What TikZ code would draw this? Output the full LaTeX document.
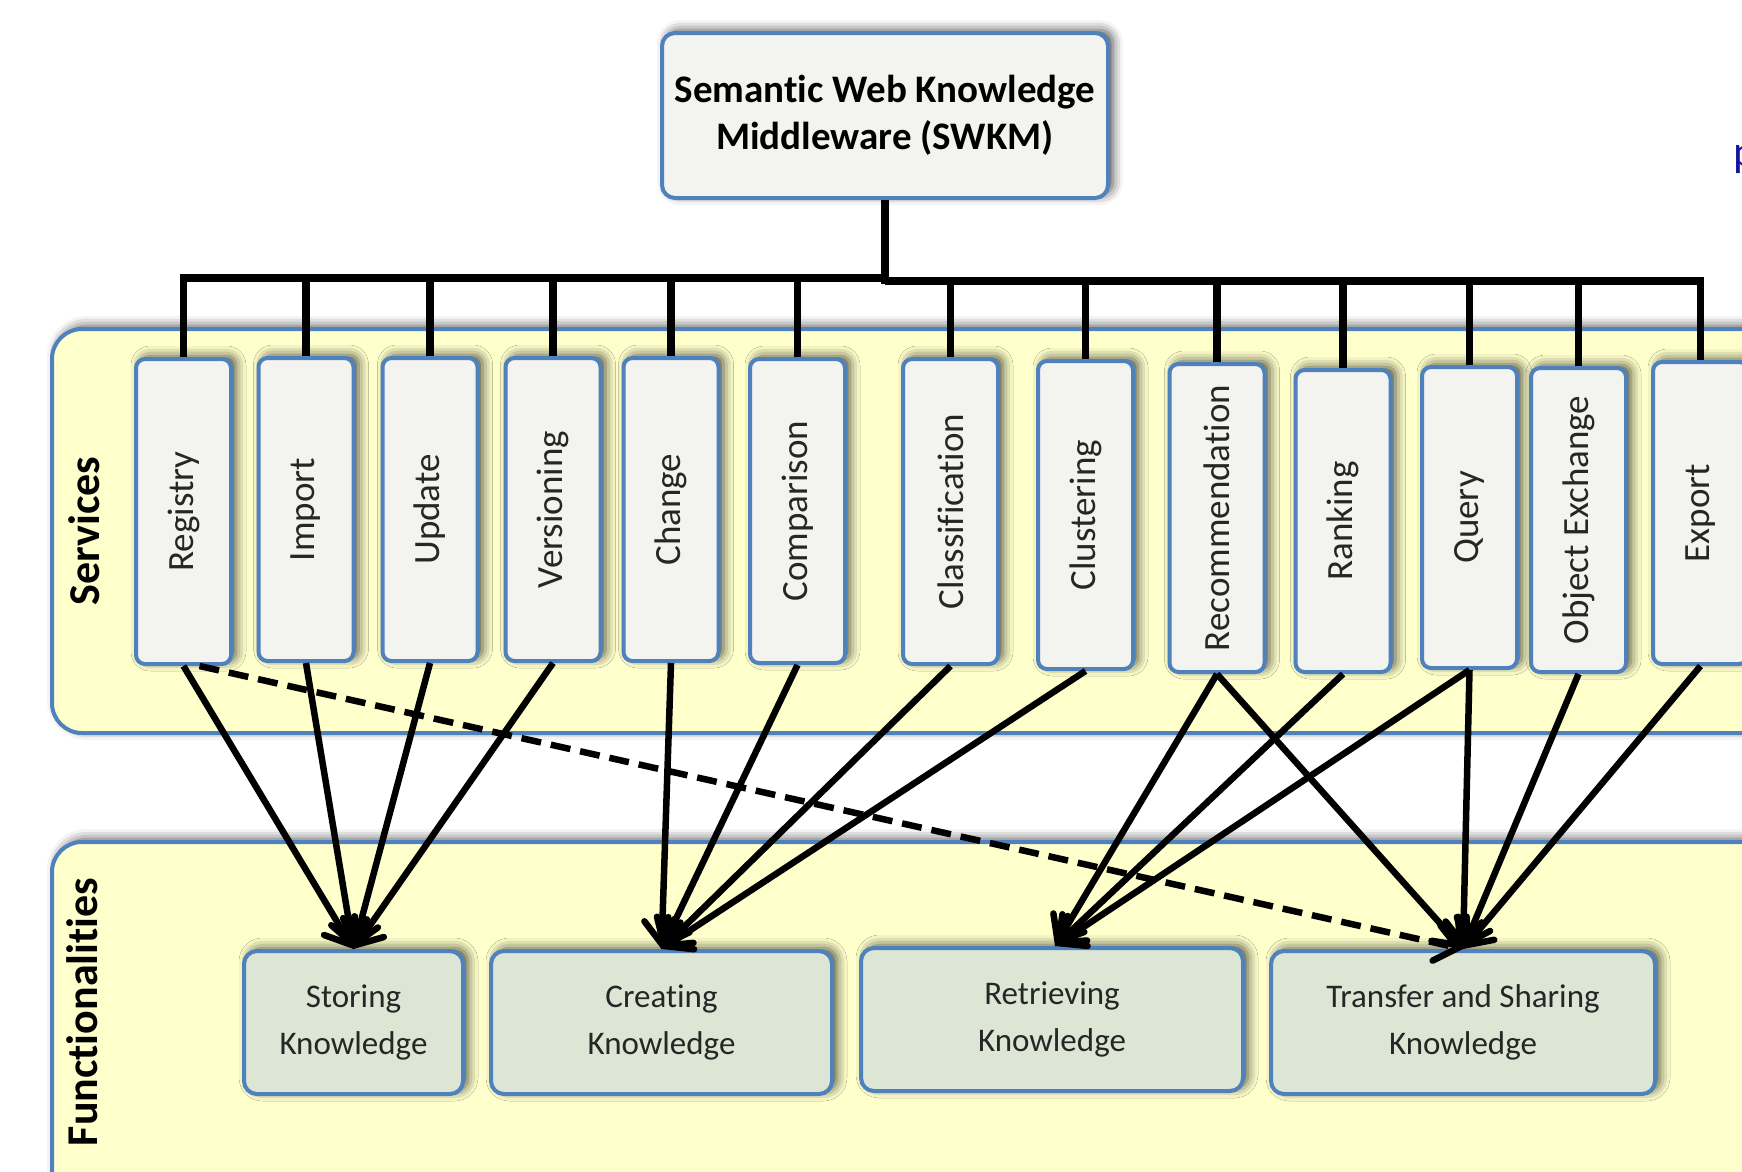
\documentclass[tikz,border=0pt]{standalone}
\usepackage{fontspec}
\setmainfont{Carlito}[RawFeature={-liga;-clig;-calt;-dlig}]
\usetikzlibrary{arrows.meta,shadows.blur}
\definecolor{edgeblue}{HTML}{4F81BD}
\definecolor{panelfill}{HTML}{FFFFCC}
\definecolor{boxfill}{HTML}{F3F3F0}
\definecolor{funcfill}{HTML}{DDE5D4}
\definecolor{inkgray}{HTML}{262626}
\definecolor{linkblue}{HTML}{1414A0}
\tikzset{
  softshadow/.style={blur shadow={shadow xshift=5pt, shadow yshift=3pt,
      shadow blur radius=10pt, shadow opacity=70}},
  panel/.style={draw=edgeblue, line width=4pt, fill=panelfill,
      rounded corners=30pt, inner sep=0pt, softshadow},
  svc/.style={draw=edgeblue, line width=4pt, fill=boxfill,
      rounded corners=9pt, inner sep=0pt, minimum width=95pt, softshadow},
  svctext/.style={rotate=90, text=inkgray, font=\fontsize{37}{44}\selectfont},
  func/.style={draw=edgeblue, line width=4pt, fill=funcfill,
      rounded corners=13pt, inner sep=0pt, align=center, text=inkgray,
      font=\fontsize{33}{47}\selectfont, softshadow},
  rootbox/.style={draw=edgeblue, line width=4pt, fill=boxfill,
      rounded corners=13pt, inner sep=0pt, align=center,
      font=\bfseries\fontsize{39}{47}\selectfont, softshadow},
  sidelabel/.style={rotate=90, font=\bfseries\fontsize{44}{50}\selectfont},
  tree/.style={line width=7.5pt, line join=miter},
  arr/.style={line width=6.5pt, line join=round,
      -{Straight Barb[length=22pt,width=36pt,line cap=round]}},
  dasharr/.style={arr, dash pattern=on 20pt off 10pt}
}
\begin{document}
\begin{tikzpicture}[x=1pt,y=-1pt]
\useasboundingbox (0,0) rectangle (1742,1171);

% the two layer panels
\node[panel, minimum width=1748pt, minimum height=404pt] (svcpanel) at (926,531) {};
\node[panel, minimum width=1748pt, minimum height=408pt] (funcpanel) at (926,1046) {};
\node[sidelabel] (svcname) at (84,531) {Services};
\node[sidelabel] (funcname) at (82,1012) {Functionalities};

% middleware root
\node[rootbox, minimum width=446pt, minimum height=165pt] (root) at (885,115.5)
  {Semantic Web Knowledge\\Middleware (SWKM)};

% service boxes: name / centre x / top / bottom / label
\foreach \n/\x/\t/\b/\lab in {
  reg/183.5/359/664/Registry,
  imp/306/358/661/Import,
  upd/430/358/661/Update,
  ver/553/358/661/Versioning,
  chg/671/358/661/Change,
  cmp/797.5/359/663/Comparison,
  cls/950.5/359/664/Classification,
  clu/1085.5/361/669/Clustering,
  rec/1217/364/672/Recommendation,
  rnk/1343/370/672/Ranking,
  qry/1469.5/367/668/Query,
  obj/1578.5/368/672/Object Exchange,
  exp/1700.5/362/664/Export}
{
  \node[svc, minimum height={\b-\t}] (\n) at (\x,{(\t+\b)/2}) {};
  \node[svctext] (\n-label) at (\n.center) {\lab};
}

% functionality boxes
\node[func, minimum width=219pt, minimum height=143pt] (sto) at (353.5,1022.5) {Storing\\Knowledge};
\node[func, minimum width=341pt, minimum height=143pt] (cre) at (661.5,1022.5) {Creating\\Knowledge};
\node[func, minimum width=382pt, minimum height=143pt] (ret) at (1052,1019.5) {Retrieving\\Knowledge};
\node[func, minimum width=384pt, minimum height=143pt] (tra) at (1463,1022.5) {Transfer and Sharing\\Knowledge};

% tree from the root to every service
\coordinate (jl) at (885,278);
\coordinate (jr) at (885,281);
\draw[tree] (root.south) -- (885,284);
\foreach \n in {reg,imp,upd,ver,chg,cmp}
  \draw[tree] (\n.north) |- (jl);
\foreach \n in {cls,clu,rec,rnk,qry,obj,exp}
  \draw[tree] (\n.north) |- (jr);

% services feeding functionalities
\foreach \n in {reg,imp,upd,ver}
  \draw[arr] (\n.south) -- (sto.north);
\foreach \n in {chg,cmp,cls,clu}
  \draw[arr] (\n.south) -- (cre.north);
\foreach \n in {rec,rnk,qry}
  \draw[arr] (\n.south) -- ([xshift=3pt]ret.north);
\foreach \n in {rec,qry,obj,exp}
  \draw[arr] (\n.south) -- (tra.north);
\draw[dasharr] ([xshift=16pt]reg.south) -- (tra.north);

% clipped link text at the right edge
\node[text=linkblue, font=\fontsize{44}{50}\selectfont, anchor=base west, inner sep=0pt]
  (edgetext) at (1733,166) {p};
\end{tikzpicture}
\end{document}
